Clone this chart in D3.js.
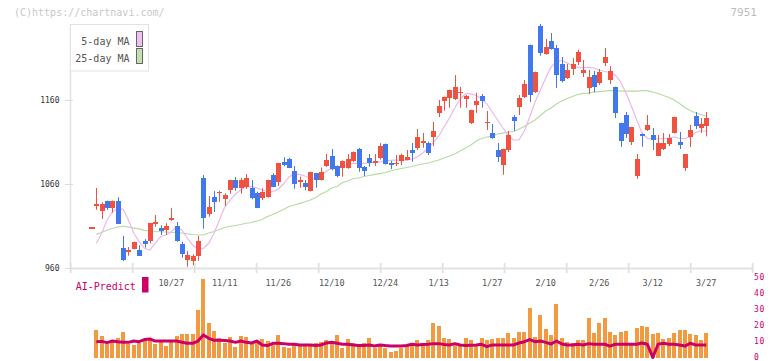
<!DOCTYPE html>
<html><head><meta charset="utf-8">
<script src="https://cdn.jsdelivr.net/npm/d3@7/dist/d3.min.js"></script>
<style>body{margin:0;background:#fff}svg{display:block}</style>
</head><body><svg id="c" width="772" height="361"></svg>
<script>
const opens  = [1008,1034,1028,1039.5,1031.6,1039.5,983.5,978.7,982.7,981,991.8,992.2,1012.1,1007.3,1005.3,1017.2,1009.7,988.3,969.2,968.3,974,1067,1024.4,1044.3,1048.7,1042.3,1053,1064.6,1055.4,1056.6,1054.7,1048.7,1043.5,1044.7,1070.6,1062.6,1086,1090,1075.3,1061.8,1061,1051.8,1072.6,1064.6,1081.3,1093.2,1081.3,1079.3,1079.3,1087.3,1101.6,1080.4,1090.8,1084.9,1090.8,1107.5,1084.9,1084,1087.6,1088.8,1100.4,1103.1,1109.1,1108.7,1115.9,1144.9,1158.8,1162.4,1160.8,1168.8,1161.5,1132.6,1154.4,1164.8,1133,1120.6,1100.4,1082.5,1100.4,1139.7,1151.6,1163.6,1225.6,1169.5,1248.2,1215.2,1230.4,1222,1202.9,1186.2,1197,1205.3,1192.2,1174.3,1189.8,1180.3,1204.1,1183.9,1175.5,1132.6,1142.1,1109.9,1069.7,1119.4,1124.2,1118.3,1093.2,1101.6,1107.5,1120.6,1110,1078.9,1115.9,1140.9,1126.6,1129];
const highs  = [1008,1055,1038,1040,1040,1044,998,984.7,991,986.7,994,1013.5,1022.8,1010.6,1013,1031,1014.5,991,979.9,976,997.8,1070.6,1045.5,1051.5,1051.8,1048.7,1065,1068.2,1067,1071.7,1064.6,1050.6,1054.7,1065,1072.6,1085,1091.7,1091,1081.3,1068.5,1064.6,1074.5,1073,1079.3,1095.6,1101.6,1082,1088,1095.6,1098.5,1102.8,1081.3,1095.6,1095.6,1108.7,1108,1087.3,1094.4,1096,1100.4,1108.7,1125.4,1120.7,1110.3,1133.8,1160,1164,1172.5,1189.8,1175.5,1166,1148.5,1168.7,1167.2,1146.9,1131.4,1108.7,1102,1123,1142.1,1166,1183.9,1226,1193.8,1250.6,1232.7,1239.9,1225.6,1211.3,1202.9,1210,1220,1207.7,1195.8,1194.6,1197,1222,1200.5,1176,1133,1145.7,1128,1095.6,1120,1142.1,1126.6,1118.3,1120.6,1119.4,1140,1121.8,1095.6,1130.2,1145.7,1138.5,1145.7];
const lows   = [1008,1029,1018,1029,1025.6,1012,968,974.3,982,974,984,989,1008.9,999,999,1015.7,991,971.9,961.2,963.2,968.3,1006.5,1020.8,1026.4,1038.7,1033.6,1048.3,1051.8,1048.3,1054,1041.6,1031,1040.7,1043.5,1056,1057.4,1081,1079,1054.2,1055.4,1052.3,1051,1055.4,1064,1080,1076,1067.8,1068.5,1078,1086,1074.5,1069.4,1080.4,1081.3,1089,1083,1077.7,1081.3,1082.5,1088,1086.4,1100.4,1103.1,1094.4,1105.1,1139.7,1147.2,1150.8,1160,1150.8,1150.8,1131.4,1144.5,1150.8,1124.2,1113.8,1086,1070.9,1098,1123,1142.1,1162.4,1157.6,1168.3,1212.8,1214,1220,1174.3,1181,1185,1189.8,1201.7,1187.4,1167.2,1169.5,1177.9,1200.5,1179.1,1138.5,1104,1114.7,1106.3,1066,1104.3,1123,1100.4,1093,1100.4,1105.1,1120,1101.6,1075.3,1103.9,1125.4,1120.6,1116.7];
const closes = [1008,1036,1036,1031.6,1039.5,1012.5,969.5,981.1,990.6,974.3,988.3,1013.3,1014.5,1004.1,1009.7,1019.3,992.2,976.7,975.1,974,992.2,1019.6,1032.4,1038.4,1050.6,1047,1064.6,1055,1064.6,1067.3,1042.8,1031.6,1050.3,1064.6,1056.6,1084.9,1082.5,1079.3,1060.2,1064.6,1056.2,1074.1,1064.6,1074.1,1088.4,1077.7,1069.4,1087.3,1089.6,1098,1079.3,1075.3,1084.9,1087.3,1105.1,1084,1082.9,1085,1094.4,1092,1097.2,1115.9,1111.1,1097.2,1123,1152.8,1163.6,1172,1175.5,1169.5,1164.8,1148,1158.8,1158.8,1134,1115,1092,1101.6,1118.3,1135,1162.4,1179.1,1166,1193.4,1216.4,1223.2,1221.2,1189.8,1182.7,1195.8,1202.9,1217.2,1195.8,1187.4,1175.5,1193.4,1211.3,1194.6,1144.9,1111.5,1119.4,1127.8,1089.6,1116.7,1130.2,1112.3,1108.7,1108.7,1114.7,1139.7,1106.3,1095.6,1124.2,1129,1131.4,1138.5];
const ma5  = [null,989.1,1001.0,1016.9,1026.8,1030.8,1029.6,1016.9,1001.0,991.0,983.1,981.1,989.1,997.0,999.0,1002.9,1008.9,1005.0,995.1,987.1,981.9,983.1,989.1,1001.0,1016.9,1032.4,1040.7,1047.9,1052.7,1056.8,1056.8,1055.1,1052.7,1050.6,1050.6,1053.9,1059.8,1068.2,1071.7,1071.2,1069.4,1066.4,1066.6,1069.4,1075.3,1078.3,1079.5,1081.3,1082.5,1084.3,1084.3,1084.3,1084.9,1085.5,1086.1,1087.3,1087.9,1088.4,1088.4,1088.4,1089.6,1092.0,1096.8,1102.4,1109.3,1117.1,1127.8,1138.5,1150.5,1161.2,1167.2,1167.2,1165.4,1161.8,1155.2,1145.7,1136.1,1126.6,1117.7,1112.3,1112.3,1123.0,1139.7,1157.6,1171.9,1186.2,1199.4,1205.9,1207.1,1204.1,1201.1,1198.8,1198.2,1198.8,1198.2,1195.8,1194.0,1192.8,1189.8,1181.5,1168.3,1152.8,1136.1,1120.6,1114.3,1113.5,1113.5,1114.1,1114.7,1115.9,1114.1,1114.1,1115.9,1121.2,1123.0,1123.0];
const ma25 = [null,999.8,1002.0,1005.0,1006.7,1008.5,1009.4,1008.5,1007.3,1006.2,1004.6,1003.8,1003.2,1002.9,1002.6,1002.2,1002.0,1001.4,1000.4,999.6,999.0,999.0,1001.4,1003.2,1005.6,1007.9,1009.4,1010.3,1011.5,1013.0,1013.9,1015.7,1017.5,1021.1,1023.4,1026.4,1029.4,1033.0,1034.8,1036.8,1038.7,1040.7,1043.7,1047.9,1050.9,1055.1,1056.8,1061.6,1063.4,1066.4,1067.0,1068.8,1070.0,1071.2,1072.3,1073.5,1075.3,1077.1,1078.3,1079.5,1080.7,1082.5,1083.7,1084.9,1086.7,1088.4,1090.8,1093.2,1095.6,1099.2,1102.8,1106.3,1111.1,1114.1,1115.9,1117.1,1119.5,1120.6,1121.8,1122.4,1125.4,1128.4,1132.6,1136.1,1141.5,1146.9,1150.5,1155.2,1158.8,1161.8,1164.2,1166.6,1167.8,1168.3,1169.5,1170.1,1170.7,1171.3,1171.3,1170.7,1170.7,1170.7,1170.7,1171.1,1171.1,1169.5,1167.8,1165.4,1163.0,1160.0,1155.8,1151.1,1147.5,1144.5,1142.7,1140.9];
const volume = [null,17.6,13.8,9.1,9.9,12.8,16.3,9.1,8.3,9.7,12,11.2,8.9,9.9,7.8,9.9,13.8,15.1,15.1,15.1,30,49.2,21.9,16.9,12.8,9.5,13.4,7,13.8,13.2,9.4,10.6,12,10.7,9.3,14.5,7.2,6.6,8.7,8.7,8.7,8.7,9.3,9.9,11.4,10.7,14.5,6.6,12,9.3,8.3,9.3,12.8,6.6,8.7,6.6,4.1,4.7,6.6,8.3,8.7,11.4,8.7,11.4,21.7,20,12.8,12,9.3,8.3,12.8,11.4,8.3,12.8,11.4,12,12.4,12.8,15.6,12.8,16.5,16.5,31.4,13.4,26.9,18.2,14.5,33.7,12.8,9.9,9.3,11.2,11.2,25.2,15.7,21.7,25.2,16.1,14.5,16.5,16.9,8.7,19,20,19.4,14.9,15.7,12,12.8,15.7,17.6,17.6,14.9,14.5,11.4,15.7];
const aiPredict = [null,10.3,10.5,9.7,10.7,10.3,10,9.9,10.7,10.3,11.6,12,10.7,10.7,10.7,10.7,10.7,10,9.3,9.3,10.7,14.5,12.4,11.2,11.2,11,10.7,9.9,10.7,9.9,9.5,10.7,8.3,7.9,9.3,9.3,9.1,8.7,8.7,8.3,8.3,8.3,7.9,8.3,9.5,9.9,9.3,8.7,8.7,8.3,7.9,7.9,8.3,7.6,8.3,7.9,7.6,7.6,7.6,7.9,8.7,8.3,8.5,8.7,9.1,9.1,8.5,8.3,9.1,8.3,7.9,8.1,8.3,8.7,7.2,8.3,8.3,8.3,8.3,8.3,9.5,10.3,11.6,10.3,10.7,9.9,8.9,10.7,8.9,8.3,8.3,8.7,8.3,9.1,8.7,8.7,8.7,7.6,8.7,8.7,8.7,8.7,8.7,9.5,8.7,0.5,8.7,9.3,8.7,8.7,8.3,7.6,9.3,8.3,8.3,8.3];
const dateLabels = ["10/27","11/11","11/26","12/10","12/24","1/13","1/27","2/10","2/26","3/12","3/27"];
const dateLabelIdx = [15,25,35,45,55,65,75,85,95,105,115];
const priceTicks = [960,1060,1160];
const volTicks = [0,10,20,30,40,50];

const svg = d3.select("#c");
const MONO = "'DejaVu Sans Mono', monospace";
const RED = "#f0523f", BLUE = "#4178ee";

const x = d3.scaleLinear().domain([0, opens.length-1]).range([91, 706.25]);
const y = d3.scaleLinear().domain([960,1260]).range([267.7,16.15]);
const v = d3.scaleLinear().domain([0,50]).range([358.3,277.7]);
const gridX = d3.scaleLinear().domain([0,11]).range([70.7,752.7]);

// watermark & code
svg.append("text").attr("x",14).attr("y",16).attr("font-family",MONO).attr("font-size",10).attr("fill","#c8c8c8").text("(C)https://chartnavi.com/");
svg.append("text").attr("x",757).attr("y",16).attr("text-anchor","end").attr("font-family",MONO).attr("font-size",11).attr("fill","#bdbdbd").text("7951");

// axes
svg.append("line").attr("x1",70.5).attr("x2",70.5).attr("y1",24).attr("y2",269).attr("stroke","#e2e2e2").attr("stroke-width",1.5);
svg.append("line").attr("x1",70).attr("x2",753).attr("y1",268.5).attr("y2",268.5).attr("stroke","#e2e2e2").attr("stroke-width",2);
svg.append("g").selectAll("line").data(d3.range(12)).join("line")
  .attr("x1",d=>gridX(d)).attr("x2",d=>gridX(d)).attr("y1",263).attr("y2",273)
  .attr("stroke","#e2e2e2").attr("stroke-width",2);
const yt = svg.append("g");
yt.selectAll("line").data(priceTicks).join("line")
  .attr("x1",65).attr("x2",73).attr("y1",d=>Math.round(y(d))+0.5).attr("y2",d=>Math.round(y(d))+0.5)
  .attr("stroke","#dcdcdc").attr("stroke-width",1);
yt.selectAll("text").data(priceTicks).join("text")
  .attr("x",59.5).attr("y",d=>y(d)+3).attr("text-anchor","end")
  .attr("font-family",MONO).attr("font-size",8).attr("fill","#333").text(d=>d);

// MA lines
const line = arr => d3.line().defined(d=>d!=null).x((d,i)=>x(i)).y(d=>y(d))(arr);
svg.append("path").attr("d",line(ma25)).attr("fill","none").attr("stroke","#b5dca3").attr("stroke-width",1.2);
svg.append("path").attr("d",line(ma5)).attr("fill","none").attr("stroke","#ecb8ec").attr("stroke-width",1.2);

// candles
const cg = svg.append("g");
const idx = d3.range(opens.length);
cg.selectAll("line").data(idx).join("line")
  .attr("x1",i=>Math.round(x(i))+0.5).attr("x2",i=>Math.round(x(i))+0.5)
  .attr("y1",i=>y(highs[i])).attr("y2",i=>y(lows[i]))
  .attr("stroke",i=>closes[i]>=opens[i]?RED:BLUE).attr("stroke-width",1);
cg.selectAll("rect").data(idx).join("rect")
  .attr("x",i=>Math.round(x(i))-2+(i===0?-0.5:0)).attr("width",i=>i===0?6:5)
  .attr("y",i=>y(Math.max(opens[i],closes[i])))
  .attr("height",i=>Math.max(1.2,Math.abs(y(opens[i])-y(closes[i]))))
  .attr("fill",i=>closes[i]>=opens[i]?RED:BLUE).attr("shape-rendering","crispEdges");

// legend
svg.append("rect").attr("x",70.5).attr("y",24.5).attr("width",78).attr("height",46.5).attr("fill","#fff").attr("stroke","#e2e2e2");
const leg = [{t:"5-day MA",c:"#f0c0f0",y:31.5},{t:"25-day MA",c:"#c0e0b0",y:48.5}];
leg.forEach(l=>{
  svg.append("text").attr("x",129.5).attr("y",l.y+13).attr("text-anchor","end").attr("font-family",MONO).attr("font-size",10).attr("fill","#555").text(l.t);
  svg.append("rect").attr("x",136.5).attr("y",l.y).attr("width",6).attr("height",15).attr("fill",l.c).attr("stroke","#666");
});

// date labels
svg.append("g").selectAll("text").data(dateLabels).join("text")
  .attr("x",(d,i)=>x(dateLabelIdx[i])).attr("y",285.5).attr("text-anchor","middle")
  .attr("font-family",MONO).attr("font-size",8.5).attr("fill","#555").text(d=>d);

// volume bars
svg.append("g").selectAll("rect").data(idx.filter(i=>volume[i]!=null)).join("rect")
  .attr("x",i=>Math.round(x(i))-2).attr("width",4)
  .attr("y",i=>v(volume[i])).attr("height",i=>v(0)-v(volume[i]))
  .attr("fill","#f29a42").attr("shape-rendering","crispEdges");

// AI predict line
svg.append("path").attr("d",d3.line().defined(d=>d!=null).x((d,i)=>x(i)).y(d=>v(d))(aiPredict))
  .attr("fill","none").attr("stroke","#cc0066").attr("stroke-width",3).attr("stroke-linejoin","round");

// volume axis labels
svg.append("g").selectAll("text").data(volTicks).join("text")
  .attr("x",754).attr("y",d=>v(d)+2).attr("font-family",MONO).attr("font-size",8).attr("letter-spacing",0.8)
  .attr("fill","#c8006e").text(d=>d);

// AI-Predict legend
svg.append("text").attr("x",75.7).attr("y",290).attr("font-family",MONO).attr("font-size",10).attr("fill","#cc0066").text("AI-Predict");
svg.append("rect").attr("x",142).attr("y",277).attr("width",6.5).attr("height",15.5).attr("fill","#cc0066");
</script></body></html>
